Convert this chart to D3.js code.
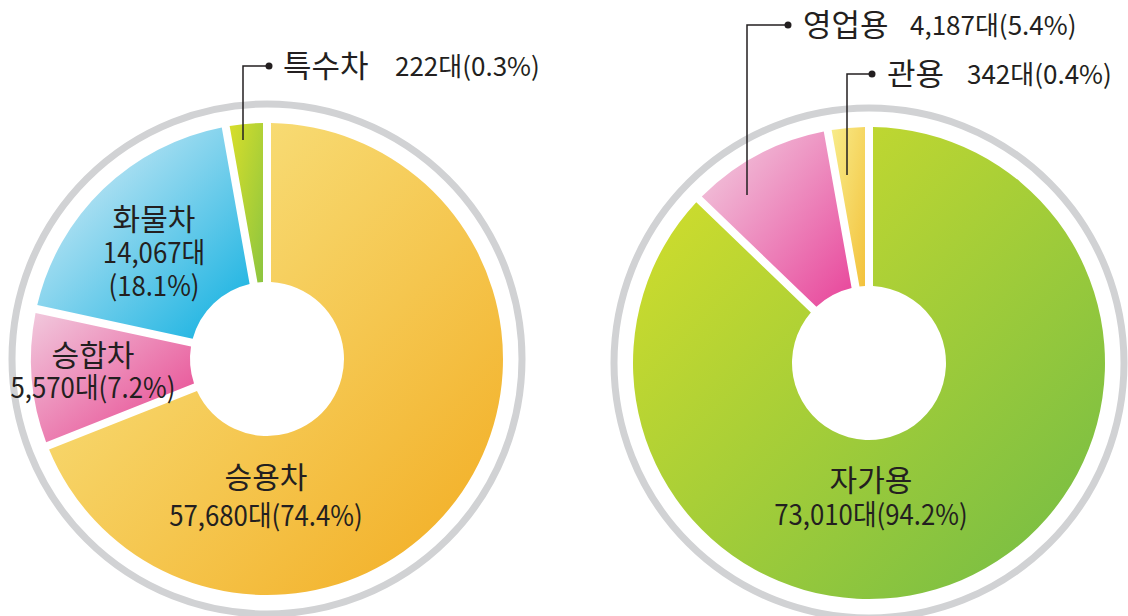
<!DOCTYPE html>
<html>
<head>
<meta charset="UTF-8" />
<title>차종별 / 용도별 등록대수</title>
<script src="https://d3js.org/d3.v7.min.js"></script>
<style>
  body { margin: 0; background: #fff; }
  text { font-family: "Noto Sans CJK KR", "Noto Sans", sans-serif; fill: #231f20; }
</style>
</head>
<body>
<svg id="chart" width="1128" height="616"></svg>
<script>
// left donut: by vehicle type
const typeNames = ["승용차", "승합차", "화물차", "특수차"]
const typeCounts = [57680, 5570, 14067, 222]
const typePct = [74.4, 7.2, 18.1, 0.3]
// slice sizes as drawn in the picture (%), small slices are enlarged there
const typeShown = [69.0, 9.4, 18.8, 2.8]

// right donut: by use
const useNames = ["자가용", "영업용", "관용"]
const useCounts = [73010, 4187, 342]
const usePct = [94.2, 5.4, 0.4]
const useShown = [87.2, 10.0, 2.8]

// gradient colours, light top-left -> strong bottom-right
const typeColors = [["#f9ea8e", "#f2ab1f"], ["#f1c9dd", "#e7408c"], ["#e6f1f8", "#0cafe0"], ["#d8de2a", "#8cc540"]]
const useColors = [["#d9e02a", "#70bb46"], ["#f2d2e2", "#e8449a"], ["#f8ec8a", "#f3c23c"]]

const svg = d3.select("#chart")
const defs = svg.append("defs")
const fmt = d3.format(",")

const rInner = 77, rOuter = 236, rRing = 255

function donut(cx, cy, names, counts, pct, shown, colors, key) {
  const g = svg.append("g").attr("transform", `translate(${cx},${cy})`)

  g.append("circle")
    .attr("r", rRing)
    .attr("fill", "none")
    .attr("stroke", "#d1d2d4")
    .attr("stroke-width", 7)

  const data = names.map((n, i) => ({name: n, count: counts[i], pct: pct[i], shown: shown[i], i: i}))
  const pie = d3.pie().sort(null).value(d => d.shown)
  const arc = d3.arc().innerRadius(rInner).outerRadius(rOuter)
    .padAngle(8 / rOuter).padRadius(rOuter)

  data.forEach((d, i) => {
    const gr = defs.append("linearGradient")
      .attr("id", `${key}${i}`)
      .attr("x1", 0).attr("y1", 0).attr("x2", 1).attr("y2", 1)
    gr.append("stop").attr("offset", "0%").attr("stop-color", colors[i][0])
    gr.append("stop").attr("offset", "100%").attr("stop-color", colors[i][1])
  })

  g.selectAll("path")
    .data(pie(data))
    .join("path")
    .attr("d", arc)
    .attr("fill", d => `url(#${key}${d.data.i})`)

  return data
}

const left = donut(267, 359, typeNames, typeCounts, typePct, typeShown, typeColors, "t")
const right = donut(869, 363, useNames, useCounts, usePct, useShown, useColors, "u")

function valueText(d) { return `${fmt(d.count)}대(${d.pct}%)` }

// label inside slice: name + value line(s)
function inLabel(lines, x, ys) {
  lines.forEach((t, k) => {
    const big = k === 0
    svg.append("text")
      .attr("transform", `translate(${x},${ys[k]}) scale(${big ? 1 : 0.92},1)`)
      .attr("text-anchor", "middle")
      .style("font-size", big ? "30px" : "28px")
      .text(t)
  })
}

inLabel([left[0].name, valueText(left[0])], 266, [488, 526])
inLabel([left[1].name, valueText(left[1])], 93, [366, 398])
inLabel([left[2].name, `${fmt(left[2].count)}대`, `(${left[2].pct}%)`], 154, [230, 263, 296])
inLabel([right[0].name, valueText(right[0])], 871, [491, 525])

// callouts with leader line
function callout(d, dotX, dotY, lineX, lineY2, nameX, valX) {
  svg.append("path")
    .attr("d", `M${dotX},${dotY}H${lineX}V${lineY2}`)
    .attr("fill", "none")
    .attr("stroke", "#231f20")
    .attr("stroke-width", 1.5)
  svg.append("circle").attr("cx", dotX).attr("cy", dotY).attr("r", 3.5).attr("fill", "#231f20")
  svg.append("text")
    .attr("x", nameX).attr("y", dotY + 11)
    .style("font-size", "31px")
    .text(d.name)
  svg.append("text")
    .attr("x", valX).attr("y", dotY + 10)
    .style("font-size", "26px")
    .text(valueText(d))
}

callout(left[3], 269, 66, 243, 140, 283, 395)
callout(right[1], 788, 25, 747, 195, 803, 910)
callout(right[2], 872, 74, 847, 175, 887, 967)
</script>
</body>
</html>
